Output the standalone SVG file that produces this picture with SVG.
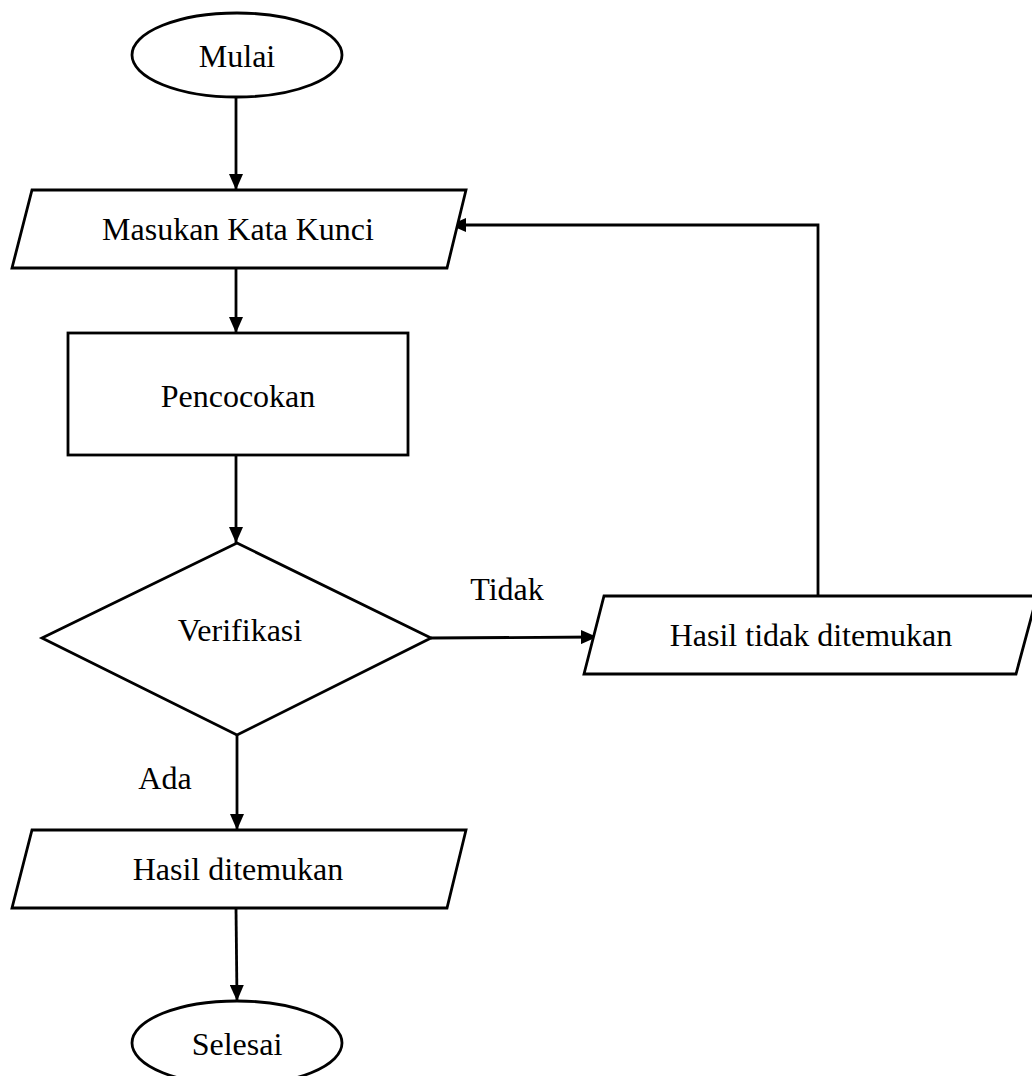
<svg xmlns="http://www.w3.org/2000/svg" width="1032" height="1076" viewBox="0 0 1032 1076">
<style>
.s{fill:#fff;stroke:#000;stroke-width:2.8;stroke-linejoin:miter}
.c{fill:none;stroke:#000;stroke-width:2.8}
text{font-family:"Liberation Serif","Times New Roman",serif;font-size:32px;fill:#000}
.m{text-anchor:middle}
</style>
<defs>
<marker id="ah" viewBox="0 0 16 14" refX="16" refY="7" markerWidth="16" markerHeight="14" markerUnits="userSpaceOnUse" orient="auto">
<path d="M0,0 L16,7 L0,14 Z" fill="#000"/>
</marker>
</defs>
<rect width="1032" height="1076" fill="#fff"/>
<g id="connectors">
<line class="c" x1="236" y1="97" x2="236" y2="190" marker-end="url(#ah)"/>
<line class="c" x1="236" y1="268" x2="236" y2="333" marker-end="url(#ah)"/>
<line class="c" x1="236" y1="455" x2="236" y2="543" marker-end="url(#ah)"/>
<line class="c" x1="431" y1="638" x2="597" y2="637" marker-end="url(#ah)"/>
<polyline class="c" points="818,596 818,225 450,225" marker-end="url(#ah)"/>
<line class="c" x1="237" y1="735" x2="237" y2="830" marker-end="url(#ah)"/>
<line class="c" x1="236" y1="908" x2="237" y2="1001" marker-end="url(#ah)"/>
</g>
<g id="mulai">
<ellipse class="s" cx="237" cy="55" rx="105" ry="42"/>
<text class="m" x="237" y="67">Mulai</text>
</g>
<g id="masukan">
<polygon class="s" points="32,190 466,190 447,268 12,268"/>
<text class="m" x="238" y="240">Masukan Kata Kunci</text>
</g>
<g id="pencocokan">
<rect class="s" x="68" y="333" width="340" height="122"/>
<text class="m" x="238" y="407">Pencocokan</text>
</g>
<g id="verifikasi">
<polygon class="s" points="237,543 431,638 237,735 42,638"/>
<text class="m" x="240" y="641">Verifikasi</text>
</g>
<g id="tidak-label">
<text class="m" x="507" y="600">Tidak</text>
</g>
<g id="hasil-tidak">
<polygon class="s" points="604,596 1037,596 1016,674 584,674"/>
<text class="m" x="811" y="646">Hasil tidak ditemukan</text>
</g>
<g id="ada-label">
<text class="m" x="165" y="789">Ada</text>
</g>
<g id="hasil">
<polygon class="s" points="32,830 466,830 447,908 12,908"/>
<text class="m" x="238" y="880">Hasil ditemukan</text>
</g>
<g id="selesai">
<ellipse class="s" cx="237" cy="1043" rx="105" ry="42"/>
<text class="m" x="237" y="1055">Selesai</text>
</g>
</svg>
